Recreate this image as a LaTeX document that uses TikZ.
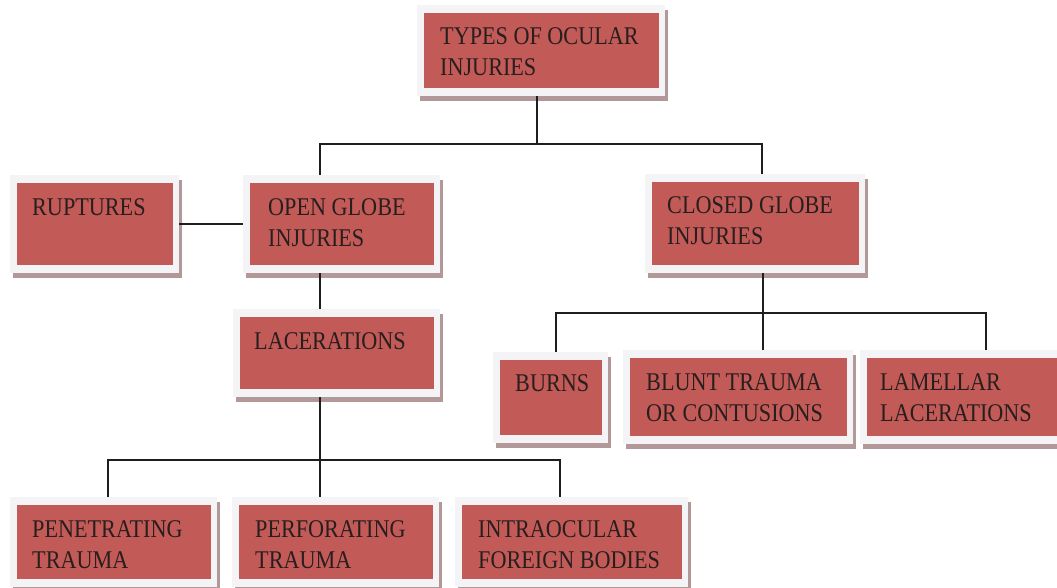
\documentclass[tikz,border=0pt]{standalone}
\usepackage{fontspec}
\setmainfont{Liberation Serif}[FakeStretch=0.87]
\usetikzlibrary{shadows,calc}
\definecolor{boxred}{RGB}{194,90,88}
\definecolor{framecol}{RGB}{244,244,246}
\definecolor{shadowcol}{RGB}{178,152,152}
\definecolor{textcol}{RGB}{40,30,30}
\definecolor{linecol}{RGB}{30,30,30}
\tikzset{
  framebox/.style={rectangle, fill=framecol, inner sep=0pt, anchor=north west,
    drop shadow={shadow xshift=2.5pt, shadow yshift=-5pt, fill=shadowcol, opacity=1},
    path picture={\fill[boxred] ([shift={(6.5pt,-8pt)}]path picture bounding box.north west)
       rectangle ([shift={(-6.5pt,8pt)}]path picture bounding box.south east);}},
  boxtext/.style={anchor=north west, inner sep=0pt, align=left, text=textcol,
    font=\fontsize{25.5}{31.5}\selectfont},
  conn/.style={draw=linecol, line width=2pt}
}
\newcommand\mkbox[5]{\node[framebox, minimum width=#4pt, minimum height=#5pt] (#1) at (#2,#3) {};}
\begin{document}
\begin{tikzpicture}[x=1pt,y=-1pt]
\useasboundingbox (0,0) rectangle (1057,588);
\clip (0,0) rectangle (1057,588);
% boxes
\mkbox{types}{417}{5}{248}{91}
\mkbox{rup}{10}{175}{169}{98}
\mkbox{open}{243}{175}{197}{98}
\mkbox{closed}{645}{174}{220}{99}
\mkbox{lac}{233}{309}{207}{88}
\mkbox{burns}{493}{352}{115}{91}
\mkbox{blunt}{623}{350}{230}{94}
\mkbox{lam}{860}{350}{210}{94}
\mkbox{pen}{10}{497}{207}{90}
\mkbox{perf}{232}{497}{207}{90}
\mkbox{intra}{455}{497}{233}{90}
% texts
\node[boxtext] (ttypes) at (440,27) {TYPES OF OCULAR\\INJURIES};
\node[boxtext] (trup) at (32,198) {RUPTURES};
\node[boxtext] (topen) at (268,198) {OPEN GLOBE\\INJURIES};
\node[boxtext] (tclosed) at (667,196) {CLOSED GLOBE\\INJURIES};
\node[boxtext] (tlac) at (254,332) {LACERATIONS};
\node[boxtext] (tburns) at (515,374) {BURNS};
\node[boxtext] (tblunt) at (646,373) {BLUNT TRAUMA\\OR CONTUSIONS};
\node[boxtext] (tlam) at (880,373) {LAMELLAR\\LACERATIONS};
\node[boxtext] (tpen) at (32,520) {PENETRATING\\TRAUMA};
\node[boxtext] (tperf) at (255,520) {PERFORATING\\TRAUMA};
\node[boxtext] (tintra) at (478,520) {INTRAOCULAR\\FOREIGN BODIES};
% junctions
\coordinate (jT) at (537,144);
\coordinate (jL) at (320,144);
\coordinate (jR) at (762,144);
\coordinate (jB) at (320,460);
\coordinate (jB1) at (108,460);
\coordinate (jB3) at (560,460);
\coordinate (jC) at (763,313);
\coordinate (jC1) at (556,313);
\coordinate (jC3) at (986,313);
% connectors
\draw[conn] (types.south -| jT) -- (jT);
\draw[conn] (open.north -| jL) -- (jL) -- (jR) -- (closed.north -| jR);
\draw[conn] (rup.east) -- (open.west);
\draw[conn] (open.south -| jL) -- (lac.north -| jL);
\draw[conn] (lac.south -| jB) -- (jB) -- (perf.north -| jB);
\draw[conn] (pen.north -| jB1) -- (jB1) -- (jB3) -- (intra.north -| jB3);
\draw[conn] (closed.south -| jC) -- (jC) -- (blunt.north -| jC);
\draw[conn] (burns.north -| jC1) -- (jC1) -- (jC3) -- (lam.north -| jC3);
\end{tikzpicture}
\end{document}
